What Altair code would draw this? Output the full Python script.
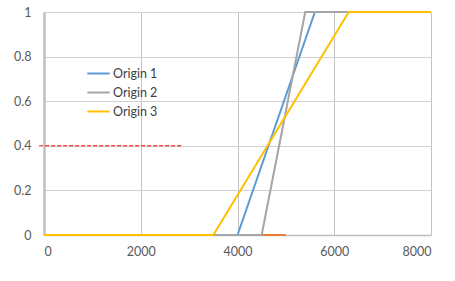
import altair as alt
import pandas as pd

series_names = ["Origin 1", "Origin 2", "Origin 3"]
o1_x = [0, 4000, 5600, 8000]
o1_y = [0, 0, 1, 1]
o2_x = [0, 4500, 5400, 8000]
o2_y = [0, 0, 1, 1]
o3_x = [0, 3500, 6300, 8000]
o3_y = [0, 0, 1, 1]
extra_x = [0, 5000]
extra_y = [0, 0]
ref_x = [-100, 2850]
ref_y = [0.4, 0.4]

rows = []
for name, xs, ys in zip(series_names, [o1_x, o2_x, o3_x], [o1_y, o2_y, o3_y]):
    for i, (a, b) in enumerate(zip(xs, ys)):
        rows.append({"series": name, "x": a, "y": b, "i": i})
df = pd.DataFrame(rows)
df_extra = pd.DataFrame({"x": extra_x, "y": extra_y})
df_ref = pd.DataFrame({"x": ref_x, "y": ref_y})

FONT = "Lato"
xscale = alt.Scale(domain=[0, 8000], nice=False)
yscale = alt.Scale(domain=[0, 1], nice=False)

xaxis = alt.Axis(values=[0, 2000, 4000, 6000, 8000], title=None, ticks=False,
                 labelPadding=10, labelFont=FONT, labelFontSize=12.5, format="d",
                 labelColor="#595959", gridColor="#c4c4c4", domainColor="#bfbfbf",
                 domainWidth=1.5)
yaxis = alt.Axis(values=[0, 0.2, 0.4, 0.6, 0.8, 1], title=None, ticks=False,
                 labelPadding=13, labelFont=FONT, labelFontSize=12.5,
                 labelColor="#595959", gridColor="#d0d0d0", domainColor="#bfbfbf",
                 domainWidth=2.5, format="~g")

extra = alt.Chart(df_extra).mark_line(color="#ED7D31", strokeWidth=2).encode(
    x=alt.X("x:Q", scale=xscale, axis=xaxis),
    y=alt.Y("y:Q", scale=yscale, axis=yaxis),
)

lines = alt.Chart(df).mark_line(strokeWidth=2).encode(
    x=alt.X("x:Q", scale=xscale),
    y=alt.Y("y:Q", scale=yscale),
    order="i:O",
    color=alt.Color("series:N",
                    scale=alt.Scale(domain=series_names,
                                    range=["#5B9BD5", "#A5A5A5", "#FFC000"]),
                    legend=alt.Legend(title=None, orient="none", legendX=42, legendY=49,
                                      symbolType="stroke", symbolSize=500,
                                      symbolStrokeWidth=2, labelFont=FONT,
                                      labelFontSize=12.5, labelColor="#404040",
                                      rowPadding=-6.5, labelOffset=2)),
)

ref = alt.Chart(df_ref).mark_line(color="#ee0000", strokeWidth=1, strokeDash=[4, 2],
                                  clip=False).encode(
    x=alt.X("x:Q", scale=xscale),
    y=alt.Y("y:Q", scale=yscale),
)

chart = alt.layer(extra, lines, ref).properties(
    width=387, height=223,
    autosize=alt.AutoSizeParams(type="none"),
    padding={"left": 44, "top": 12, "right": 24, "bottom": 46},
).configure_view(stroke=None)

chart.save("out.html", embed_options={"renderer": "svg", "actions": False})
